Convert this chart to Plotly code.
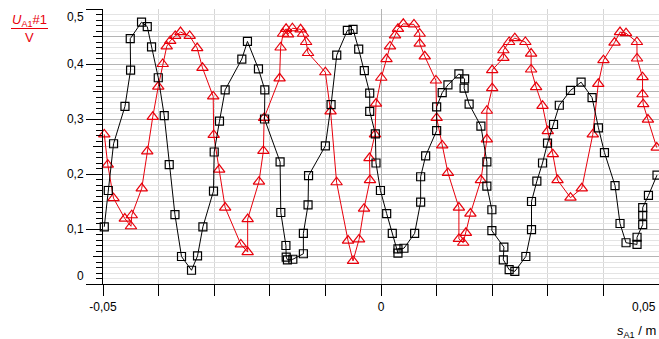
import plotly.graph_objects as go

# ---- data (x in m, U in V) ----
black_x = [-0.04977, -0.04905, -0.04810, -0.04605, -0.04504, -0.04510, -0.04307, -0.04204, -0.04127,
           -0.04006, -0.03899, -0.03809, -0.03706, -0.03588, -0.03408, -0.03300, -0.03203, -0.03013,
           -0.03000, -0.02905, -0.02803, -0.02503, -0.02402, -0.02204, -0.02090, -0.02095, -0.01815,
           -0.01802, -0.01710, -0.01705, -0.01683, -0.01586, -0.01396, -0.01396, -0.01312, -0.01303,
           -0.01001, -0.00898, -0.00796, -0.00605, -0.00503, -0.00401, -0.00300, -0.00203, -0.00203,
           -0.00102, -0.00090, -0.00010, 0.00102, 0.00203, 0.00305, 0.00305, 0.00413, 0.00605,
           0.00713, 0.00713, 0.00803, 0.01001, 0.01001, 0.01101, 0.01204, 0.01401, 0.01504,
           0.01495, 0.01585, 0.01797, 0.01904, 0.01904, 0.01994, 0.01994, 0.02210, 0.02200,
           0.02305, 0.02407, 0.02605, 0.02707, 0.02707, 0.02803, 0.02905, 0.02995, 0.03103,
           0.03207, 0.03408, 0.03599, 0.03796, 0.03911, 0.04019, 0.04209, 0.04299, 0.04407,
           0.04605, 0.04605, 0.04707, 0.04707, 0.04707, 0.04810, 0.04964]
black_y = [0.104, 0.170, 0.255, 0.323, 0.389, 0.446, 0.476, 0.468, 0.431,
           0.375, 0.306, 0.217, 0.126, 0.050, 0.025, 0.051, 0.104, 0.169,
           0.240, 0.296, 0.353, 0.409, 0.441, 0.391, 0.353, 0.300, 0.222,
           0.130, 0.070, 0.049, 0.044, 0.045, 0.055, 0.092, 0.144, 0.197,
           0.251, 0.326, 0.416, 0.461, 0.463, 0.427, 0.388, 0.347, 0.314,
           0.273, 0.220, 0.170, 0.128, 0.092, 0.056, 0.064, 0.065, 0.092,
           0.149, 0.195, 0.233, 0.279, 0.322, 0.348, 0.362, 0.382, 0.373,
           0.356, 0.327, 0.287, 0.222, 0.178, 0.135, 0.097, 0.067, 0.044,
           0.026, 0.023, 0.050, 0.099, 0.150, 0.187, 0.220, 0.256, 0.290,
           0.325, 0.352, 0.367, 0.339, 0.284, 0.239, 0.179, 0.110, 0.075,
           0.072, 0.085, 0.108, 0.125, 0.139, 0.161, 0.198]

red_x = [-0.04977, -0.04914, -0.04811, -0.04608, -0.04497, -0.04483, -0.04303, -0.04204, -0.04105,
         -0.04006, -0.03926, -0.03854, -0.03791, -0.03701, -0.03606, -0.03441, -0.03306, -0.03211,
         -0.03018, -0.03009, -0.02911, -0.02803, -0.02521, -0.02398, -0.02398, -0.02195, -0.02115,
         -0.02102, -0.01824, -0.01806, -0.01761, -0.01707, -0.01671, -0.01594, -0.01446, -0.01401,
         -0.01347, -0.01312, -0.01001, -0.00907, -0.00799, -0.00593, -0.00503, -0.00395, -0.00305,
         -0.00198, -0.00207, -0.00108, -0.00090, 0.00005, 0.00099, 0.00162, 0.00252, 0.00305,
         0.00401, 0.00593, 0.00696, 0.00696, 0.00787, 0.00988, 0.01001, 0.01101, 0.01204,
         0.01401, 0.01401, 0.01479, 0.01527, 0.01608, 0.01797, 0.01904, 0.01904, 0.02000,
         0.02000, 0.02201, 0.02201, 0.02305, 0.02407, 0.02596, 0.02700, 0.02700, 0.02790,
         0.02905, 0.03000, 0.03090, 0.03175, 0.03408, 0.03611, 0.03809, 0.03908, 0.04001,
         0.04200, 0.04299, 0.04407, 0.04603, 0.04605, 0.04704, 0.04704, 0.04716, 0.04801,
         0.04959]
red_y = [0.272, 0.217, 0.156, 0.119, 0.105, 0.125, 0.174, 0.241, 0.304,
         0.359, 0.400, 0.432, 0.442, 0.451, 0.458, 0.451, 0.429, 0.393,
         0.341, 0.271, 0.208, 0.139, 0.072, 0.058, 0.118, 0.186, 0.242,
         0.302, 0.374, 0.430, 0.455, 0.464, 0.454, 0.465, 0.463, 0.455,
         0.440, 0.420, 0.385, 0.314, 0.185, 0.079, 0.042, 0.081, 0.137,
         0.189, 0.229, 0.272, 0.328, 0.375, 0.409, 0.432, 0.452, 0.464,
         0.473, 0.472, 0.455, 0.437, 0.414, 0.370, 0.302, 0.252, 0.202,
         0.139, 0.082, 0.075, 0.093, 0.128, 0.189, 0.263, 0.315, 0.356,
         0.389, 0.411, 0.425, 0.440, 0.447, 0.440, 0.419, 0.390, 0.358,
         0.324, 0.278, 0.236, 0.189, 0.157, 0.174, 0.272, 0.364, 0.407,
         0.439, 0.458, 0.456, 0.440, 0.410, 0.376, 0.345, 0.327, 0.299,
         0.248]

x_tickvals = [-0.05, 0.0]
x_ticktext = ["-0,05", "0"]
x_edge_label = "0,05"  # right-edge tick label, drawn flush with the edge as in the reference
y_tickvals = [0.0, 0.1, 0.2, 0.3, 0.4, 0.5]
y_ticktext = ["0<br>\u00a0", "0,1", "0,2", "0,3", "0,4", "\u00a0<br>0,5"]
y_grid_vals = [0.0, 0.05, 0.1, 0.15, 0.2, 0.25, 0.3, 0.35, 0.4, 0.45, 0.5]

RED = "#e8000b"
FONT = "Liberation Sans, Arial, sans-serif"

fig = go.Figure()
fig.add_trace(go.Scatter(
    x=red_x, y=red_y, mode="lines+markers",
    line=dict(color=RED, width=1),
    marker=dict(symbol="triangle-up-open", size=10, color=RED, line=dict(width=1.2, color=RED)),
    showlegend=False, hoverinfo="skip", cliponaxis=False))
fig.add_trace(go.Scatter(
    x=black_x, y=black_y, mode="lines+markers",
    line=dict(color="#000000", width=1),
    marker=dict(symbol="square-open", size=8, color="#000000", line=dict(width=1.2, color="#000000")),
    showlegend=False, hoverinfo="skip", cliponaxis=False))
fig.add_trace(go.Scatter(x=[], y=[], yaxis="y2", showlegend=False))

fig.update_layout(
    width=659, height=339,
    margin=dict(l=103, r=0, t=9, b=55, autoexpand=False),
    paper_bgcolor="white", plot_bgcolor="white",
    font=dict(family=FONT, size=12, color="#000000"),
    xaxis=dict(
        range=[-0.05, 0.05], tickvals=x_tickvals, ticktext=x_ticktext, automargin=False,
        ticklabeloverflow="allow", ticklabelstandoff=1,
        ticks="outside", ticklen=11, tickcolor="#000000", tickwidth=1,
        showline=True, linecolor="#000000", linewidth=1,
        showgrid=True, gridcolor="#d6d6d6", gridwidth=1,
        zeroline=True, zerolinecolor="#b4b4b4", zerolinewidth=1,
        minor=dict(tick0=0, dtick=0.01, ticks="outside", ticklen=11, tickcolor="#000000",
                   showgrid=True, gridcolor="#d6d6d6", gridwidth=1),
        tickfont=dict(family=FONT, size=12, color="#000000"),
    ),
    yaxis=dict(
        range=[0, 0.5], tickvals=y_tickvals, ticktext=y_ticktext, automargin=False,
        ticklabeloverflow="allow",
        ticks="outside", ticklen=16, tickcolor="#000000", tickwidth=1,
        showline=True, linecolor="#000000", linewidth=1,
        showgrid=False, zeroline=False,
        minor=dict(dtick=0.01, ticks="outside", ticklen=6, tickcolor="#000000",
                   showgrid=True, gridcolor="#e4e4e4", gridwidth=1),
        tickfont=dict(family=FONT, size=12, color="#000000"),
    ),
    yaxis2=dict(
        overlaying="y", anchor="x", side="left", range=[0, 0.5], automargin=False,
        tickvals=y_grid_vals, showticklabels=False,
        ticks="outside", ticklen=9, tickcolor="#000000",
        showgrid=True, gridcolor="#b4b4b4", gridwidth=1,
        zeroline=False, showline=False,
    ),
)

# right-edge x tick label
fig.add_annotation(xref="paper", yref="paper", x=0.999, y=(284 - 307) / 275,
                   text=x_edge_label, showarrow=False, xanchor="right", yanchor="middle",
                   font=dict(family=FONT, size=12, color="#000000"))
# y-axis title as fraction (U_A1#1 / V), red
fig.add_annotation(xref="paper", yref="paper", x=(29.5 - 103) / 556, y=(284 - 20) / 275,
                   text="<i>U</i><sub>A1</sub>#1", showarrow=False, xanchor="center", yanchor="middle",
                   font=dict(family=FONT, size=13, color=RED))
fig.add_annotation(xref="paper", yref="paper", x=(29.5 - 103) / 556, y=(284 - 37) / 275,
                   text="V", showarrow=False, xanchor="center", yanchor="middle",
                   font=dict(family=FONT, size=13, color=RED))
fig.add_shape(type="line", xref="paper", yref="paper",
              x0=(11 - 103) / 556, x1=(48 - 103) / 556, y0=(284 - 28.5) / 275, y1=(284 - 28.5) / 275,
              line=dict(color=RED, width=1))
# x-axis title
fig.add_annotation(xref="paper", yref="paper", x=0.998, y=(284 - 331) / 275,
                   text="<i>s</i><sub>A1</sub> / m", showarrow=False, xanchor="right", yanchor="middle",
                   font=dict(family=FONT, size=13, color="#000000"))

fig.write_html("out.html", config={"displayModeBar": False},
               post_script="document.body.style.margin='0px';document.body.style.overflow='hidden';")
